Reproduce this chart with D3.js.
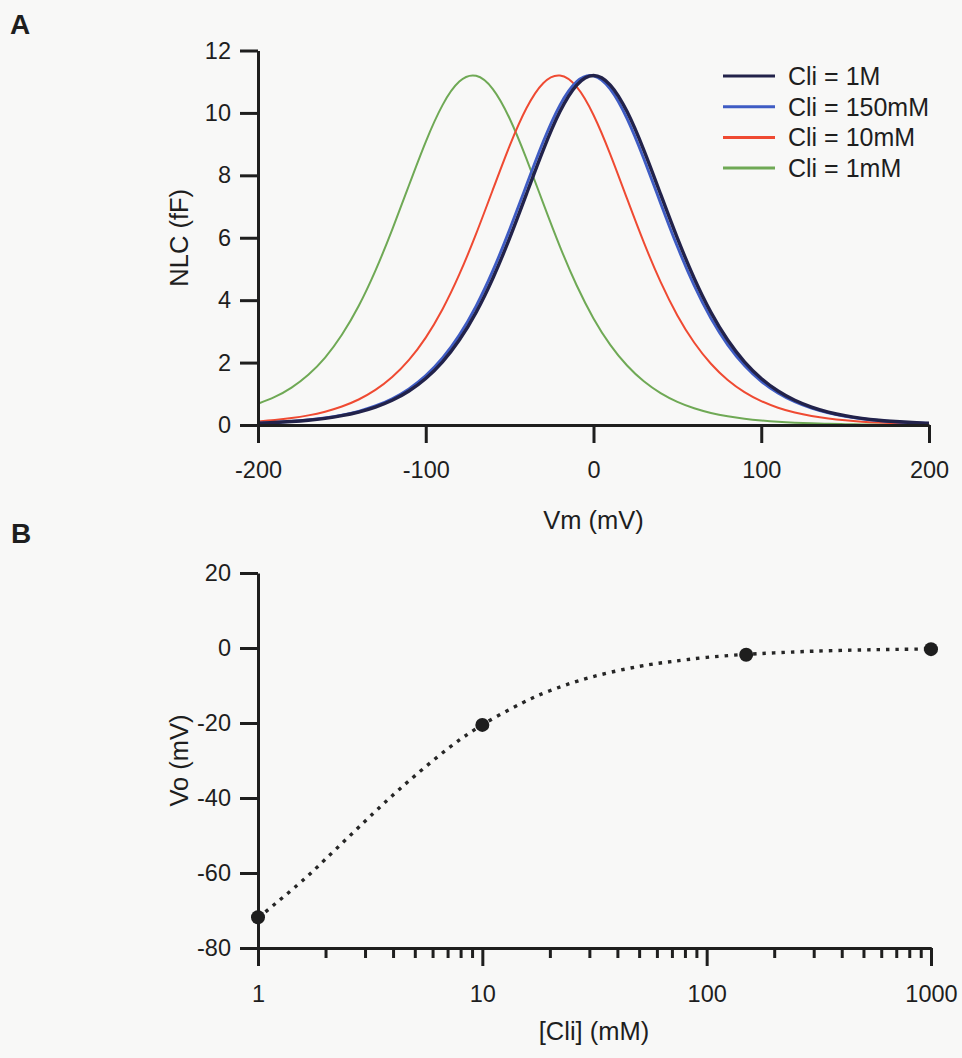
<!DOCTYPE html>
<html>
<head>
<meta charset="utf-8">
<script src="https://cdn.jsdelivr.net/npm/d3@7"></script>
<style>
  body { margin: 0; background: #f8f8f7; }
  svg { display: block; font-family: "Liberation Sans", Arial, sans-serif; }
  .axis path, .axis line { stroke: #1e1e1e; stroke-width: 3; }
  .axis text { fill: #1e1e1e; font-size: 23.5px; font-family: "Liberation Sans", Arial, sans-serif; }
  .title { fill: #1e1e1e; font-size: 25.5px; }
  .panel { fill: #1e1e1e; font-size: 28px; font-weight: bold; }
  .legend text { fill: #1e1e1e; font-size: 25px; }
</style>
</head>
<body>
<script>
// Panel A: NLC curves, sampled every 10 mV
var voltage = [-200, -190, -180, -170, -160, -150, -140, -130, -120, -110, -100, -90, -80, -70, -60, -50, -40, -30, -20, -10,
  0, 10, 20, 30, 40, 50, 60, 70, 80, 90, 100, 110, 120, 130, 140, 150, 160, 170, 180, 190, 200];

var nlc1M = [0.057, 0.079, 0.111, 0.154, 0.214, 0.298, 0.413, 0.573, 0.791, 1.089, 1.490, 2.024, 2.722, 3.610, 4.704, 5.987, 7.396, 8.808, 10.042, 10.894,
  11.2, 10.894, 10.042, 8.808, 7.396, 5.987, 4.704, 3.610, 2.722, 2.024, 1.490, 1.089, 0.791, 0.573, 0.413, 0.298, 0.214, 0.154, 0.111, 0.079, 0.057];

var nlc150mM = [0.061, 0.085, 0.118, 0.164, 0.229, 0.318, 0.441, 0.611, 0.844, 1.160, 1.585, 2.149, 2.883, 3.812, 4.946, 6.261, 7.683, 9.076, 10.250, 11.003,
  11.188, 10.764, 9.820, 8.534, 7.109, 5.717, 4.469, 3.416, 2.567, 1.905, 1.400, 1.022, 0.742, 0.537, 0.387, 0.279, 0.200, 0.144, 0.103, 0.074, 0.053];

var nlc10mM = [0.114, 0.159, 0.221, 0.308, 0.427, 0.592, 0.817, 1.124, 1.537, 2.086, 2.801, 3.710, 4.824, 6.123, 7.540, 8.943, 10.148, 10.952, 11.197, 10.832,
  9.933, 8.672, 7.252, 5.851, 4.585, 3.512, 2.644, 1.964, 1.444, 1.055, 0.766, 0.555, 0.400, 0.288, 0.207, 0.149, 0.107, 0.077, 0.055, 0.040, 0.028];

var nlc1mM = [0.680, 0.900, 1.200, 1.610, 2.160, 2.890, 3.812, 4.946, 6.261, 7.683, 9.076, 10.250, 11.003, 11.188, 10.764, 9.820, 8.534, 7.109, 5.717, 4.469,
  3.416, 2.567, 1.905, 1.400, 1.022, 0.742, 0.537, 0.387, 0.279, 0.200, 0.144, 0.103, 0.074, 0.053, 0.038, 0.027, 0.020, 0.014, 0.010, 0.007, 0.005];

var seriesNames = ["Cli = 1M", "Cli = 150mM", "Cli = 10mM", "Cli = 1mM"];
var seriesColors = ["#22224a", "#3f5cc4", "#ef4a32", "#6fa955"];
var seriesWidths = [3.4, 2.8, 2, 2];

var yTicksA = [0, 2, 4, 6, 8, 10, 12];
var xTicksA = [-200, -100, 0, 100, 200];

// Panel B: Vo vs internal chloride
var clPoints = [1, 10, 150, 1000];
var voPoints = [-71.8, -20.5, -1.8, -0.3];

// fitted curve
var fitCl = [1, 1.5, 2, 3, 4, 5, 7, 10, 15, 20, 30, 50, 70, 100, 150, 200, 300, 500, 700, 1000];
var fitVo = [-72.0, -63.2, -56.3, -46.2, -39.2, -34.1, -26.9, -20.5, -14.7, -11.4, -7.9, -4.9, -3.6, -2.5, -1.7, -1.3, -0.85, -0.51, -0.37, -0.26];

var yTicksB = [-80, -60, -40, -20, 0, 20];
var xMajorB = [1, 10, 100, 1000];
var xMinorB = [2, 3, 4, 5, 6, 7, 8, 9, 20, 30, 40, 50, 60, 70, 80, 90, 200, 300, 400, 500, 600, 700, 800, 900];

var width = 962, height = 1058;

// plain hyphen minus, like the original figure
function plain(d) { return String(d); }

var svg = d3.select("body").append("svg")
  .attr("width", width)
  .attr("height", height);

// ---------- panel A ----------
var xA = d3.scaleLinear().domain([-200, 200]).range([258, 929]);
var yA = d3.scaleLinear().domain([0, 12]).range([425, 50.5]);

var nlcSeries = [nlc1M, nlc150mM, nlc10mM, nlc1mM];

var lineA = d3.line()
  .curve(d3.curveNatural)
  .x(function(d) { return xA(d[0]); })
  .y(function(d) { return yA(d[1]); });

var gA = svg.append("g");

// draw 150mM below 1M so the dark trace sits on top
[3, 2, 1, 0].forEach(function(i) {
  gA.append("path")
    .datum(voltage.map(function(v, j) { return [v, nlcSeries[i][j]]; }))
    .attr("fill", "none")
    .attr("stroke", seriesColors[i])
    .attr("stroke-width", seriesWidths[i])
    .attr("stroke-linejoin", "round")
    .attr("d", lineA);
});

gA.append("g")
  .attr("class", "axis")
  .attr("transform", "translate(0," + yA(0) + ")")
  .call(d3.axisBottom(xA).tickValues(xTicksA).tickSize(18).tickSizeOuter(0).tickPadding(18).tickFormat(plain));

gA.append("g")
  .attr("class", "axis")
  .attr("transform", "translate(" + xA(-200) + ",0)")
  .call(d3.axisLeft(yA).tickValues(yTicksA).tickSize(18).tickSizeOuter(0).tickPadding(9).tickFormat(plain));

gA.append("text")
  .attr("class", "title")
  .attr("text-anchor", "middle")
  .attr("x", xA(0))
  .attr("y", 529)
  .text("Vm (mV)");

gA.append("text")
  .attr("class", "title")
  .attr("text-anchor", "middle")
  .attr("transform", "translate(188," + yA(6) + ")rotate(-90)")
  .text("NLC (fF)");

gA.append("text")
  .attr("class", "panel")
  .attr("x", 10)
  .attr("y", 34)
  .text("A");

var legend = gA.append("g").attr("class", "legend");
seriesNames.forEach(function(name, i) {
  var ly = 76 + i * 30.7;
  legend.append("line")
    .attr("x1", 723).attr("x2", 775)
    .attr("y1", ly).attr("y2", ly)
    .attr("stroke", seriesColors[i])
    .attr("stroke-width", 3);
  legend.append("text")
    .attr("x", 788)
    .attr("y", ly)
    .attr("dy", "0.36em")
    .text(name);
});

// ---------- panel B ----------
var xB = d3.scaleLog().domain([1, 1000]).range([258, 931]);
var yB = d3.scaleLinear().domain([-80, 20]).range([948, 573]);

var gB = svg.append("g");

gB.append("g")
  .attr("class", "axis")
  .attr("transform", "translate(0," + yB(-80) + ")")
  .call(d3.axisBottom(xB).tickValues(xMinorB).tickSize(10).tickSizeOuter(0).tickFormat(""));

gB.append("g")
  .attr("class", "axis")
  .attr("transform", "translate(0," + yB(-80) + ")")
  .call(d3.axisBottom(xB).tickValues(xMajorB).tickSize(18).tickSizeOuter(0).tickPadding(19).tickFormat(plain));

gB.append("g")
  .attr("class", "axis")
  .attr("transform", "translate(" + xB(1) + ",0)")
  .call(d3.axisLeft(yB).tickValues(yTicksB).tickSize(18).tickSizeOuter(0).tickPadding(9).tickFormat(plain));

var lineB = d3.line()
  .curve(d3.curveNatural)
  .x(function(d) { return xB(d[0]); })
  .y(function(d) { return yB(d[1]); });

gB.append("path")
  .datum(fitCl.map(function(c, j) { return [c, fitVo[j]]; }))
  .attr("fill", "none")
  .attr("stroke", "#262626")
  .attr("stroke-width", 3.4)
  .attr("stroke-dasharray", "3.5,6")
  .attr("d", lineB);

gB.selectAll(".pt")
  .data(clPoints.map(function(c, j) { return [c, voPoints[j]]; }))
  .enter()
  .append("circle")
  .attr("class", "pt")
  .attr("cx", function(d) { return xB(d[0]); })
  .attr("cy", function(d) { return yB(d[1]); })
  .attr("r", 7)
  .attr("fill", "#1e1e1e");

gB.append("text")
  .attr("class", "title")
  .attr("text-anchor", "middle")
  .attr("x", 594)
  .attr("y", 1040)
  .text("[Cli] (mM)");

gB.append("text")
  .attr("class", "title")
  .attr("text-anchor", "middle")
  .attr("transform", "translate(188," + yB(-30) + ")rotate(-90)")
  .text("Vo (mV)");

gB.append("text")
  .attr("class", "panel")
  .attr("x", 11)
  .attr("y", 543)
  .text("B");
</script>
</body>
</html>
